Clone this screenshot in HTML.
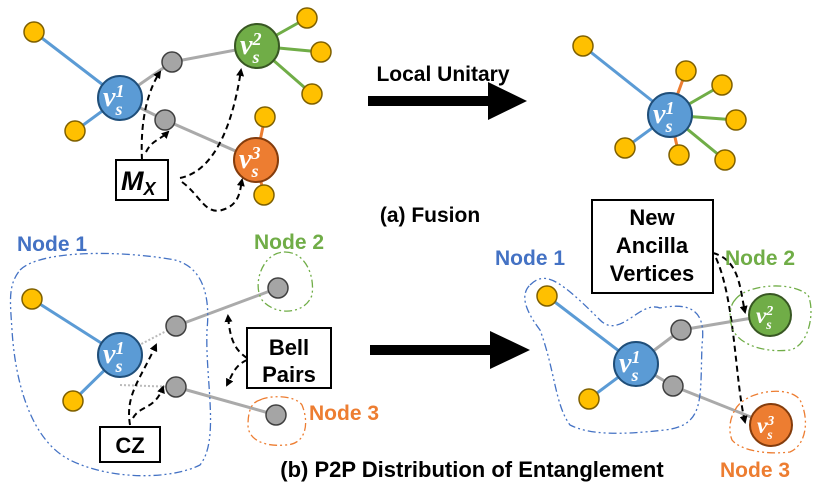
<!DOCTYPE html>
<html><head><meta charset="utf-8"><style>
body{margin:0;background:#fff}
svg{display:block}
text{font-family:"Liberation Sans",sans-serif;font-weight:bold}
.v{font-family:"Liberation Serif",serif;font-style:italic;font-weight:bold;fill:#fff}
</style></head><body>
<svg width="831" height="499" viewBox="0 0 831 499" xmlns="http://www.w3.org/2000/svg">
<defs>
<marker id="ah" markerWidth="8" markerHeight="8" refX="6" refY="4" orient="auto" markerUnits="userSpaceOnUse"><path d="M0,0 L8,4 L0,8 z" fill="#000"/></marker>
<g id="y"><circle r="10" fill="#ffc000" stroke="#7f6000" stroke-width="1.5"/></g>
<g id="g"><circle r="10" fill="#a5a5a5" stroke="#404040" stroke-width="1.5"/></g>
</defs>
<g stroke-width="3" fill="none">
<line x1="34" y1="32" x2="120" y2="98" stroke="#5b9bd5"/>
<line x1="75" y1="131" x2="120" y2="98" stroke="#5b9bd5"/>
<line x1="120" y1="98" x2="172" y2="62" stroke="#aaa"/>
<line x1="172" y1="62" x2="257" y2="46" stroke="#aaa"/>
<line x1="120" y1="98" x2="165" y2="120" stroke="#aaa"/>
<line x1="165" y1="120" x2="256" y2="160" stroke="#aaa"/>
<line x1="257" y1="46" x2="307" y2="18" stroke="#70ad47"/>
<line x1="257" y1="46" x2="321" y2="52" stroke="#70ad47"/>
<line x1="257" y1="46" x2="312" y2="94" stroke="#70ad47"/>
<line x1="256" y1="160" x2="265" y2="117" stroke="#ed7d31"/>
<line x1="256" y1="160" x2="264" y2="195" stroke="#ed7d31"/>
<line x1="583" y1="46" x2="670" y2="115" stroke="#5b9bd5"/>
<line x1="625" y1="148" x2="670" y2="115" stroke="#5b9bd5"/>
<line x1="686" y1="71" x2="670" y2="115" stroke="#ed7d31"/>
<line x1="679" y1="155" x2="670" y2="115" stroke="#ed7d31"/>
<line x1="722" y1="85" x2="670" y2="115" stroke="#70ad47"/>
<line x1="736" y1="120" x2="670" y2="115" stroke="#70ad47"/>
<line x1="725" y1="160" x2="670" y2="115" stroke="#70ad47"/>
<line x1="32" y1="299" x2="120" y2="355" stroke="#5b9bd5"/>
<line x1="73" y1="401" x2="120" y2="355" stroke="#5b9bd5"/>
<line x1="120" y1="355" x2="176" y2="326" stroke="#bbb" stroke-width="2" stroke-dasharray="2 2"/>
<line x1="120" y1="385" x2="176" y2="387" stroke="#bbb" stroke-width="2" stroke-dasharray="2 2"/>
<line x1="176" y1="326" x2="278" y2="288" stroke="#aaa"/>
<line x1="176" y1="387" x2="276" y2="415" stroke="#aaa"/>
<line x1="547" y1="296" x2="636" y2="364" stroke="#5b9bd5"/>
<line x1="589" y1="399" x2="636" y2="364" stroke="#5b9bd5"/>
<line x1="636" y1="364" x2="681" y2="330" stroke="#aaa"/>
<line x1="681" y1="330" x2="770" y2="315" stroke="#aaa"/>
<line x1="636" y1="364" x2="673" y2="386" stroke="#aaa"/>
<line x1="673" y1="386" x2="771" y2="425" stroke="#aaa"/>
</g>
<use href="#y" x="34" y="32"/><use href="#y" x="75" y="131"/>
<use href="#y" x="307" y="18"/><use href="#y" x="321" y="52"/><use href="#y" x="312" y="94"/>
<use href="#y" x="265" y="117"/><use href="#y" x="264" y="195"/>
<use href="#g" x="172" y="62"/><use href="#g" x="165" y="120"/>
<use href="#y" x="583" y="46"/><use href="#y" x="625" y="148"/><use href="#y" x="686" y="71"/><use href="#y" x="679" y="155"/>
<use href="#y" x="722" y="85"/><use href="#y" x="736" y="120"/><use href="#y" x="725" y="160"/>
<use href="#y" x="32" y="299"/><use href="#y" x="73" y="401"/>
<use href="#g" x="176" y="326"/><use href="#g" x="176" y="387"/><use href="#g" x="278" y="288"/><use href="#g" x="276" y="415"/>
<use href="#y" x="547" y="296"/><use href="#y" x="589" y="399"/>
<use href="#g" x="681" y="330"/><use href="#g" x="673" y="386"/>
<g stroke-width="2">
<circle cx="120" cy="98" r="22" fill="#5b9bd5" stroke="#1f4e79"/>
<circle cx="257" cy="46" r="22" fill="#70ad47" stroke="#385723"/>
<circle cx="256" cy="160" r="22" fill="#ed7d31" stroke="#843c0c"/>
<circle cx="670" cy="115" r="22" fill="#5b9bd5" stroke="#1f4e79"/>
<circle cx="120" cy="355" r="22" fill="#5b9bd5" stroke="#1f4e79"/>
<circle cx="636" cy="364" r="22" fill="#5b9bd5" stroke="#1f4e79"/>
<circle cx="770" cy="315" r="21" fill="#70ad47" stroke="#385723"/>
<circle cx="771" cy="425" r="21" fill="#ed7d31" stroke="#843c0c"/>
</g>
<g>
<text class="v" x="103" y="106" font-size="28">v<tspan font-size="18" dy="-9">1</tspan><tspan font-size="18" dx="-9" dy="18">s</tspan></text>
<text class="v" x="240" y="54" font-size="28">v<tspan font-size="18" dy="-9">2</tspan><tspan font-size="18" dx="-9" dy="18">s</tspan></text>
<text class="v" x="239" y="168" font-size="28">v<tspan font-size="18" dy="-9">3</tspan><tspan font-size="18" dx="-9" dy="18">s</tspan></text>
<text class="v" x="653" y="123" font-size="28">v<tspan font-size="18" dy="-9">1</tspan><tspan font-size="18" dx="-9" dy="18">s</tspan></text>
<text class="v" x="103" y="363" font-size="28">v<tspan font-size="18" dy="-9">1</tspan><tspan font-size="18" dx="-9" dy="18">s</tspan></text>
<text class="v" x="619" y="372" font-size="28">v<tspan font-size="18" dy="-9">1</tspan><tspan font-size="18" dx="-9" dy="18">s</tspan></text>
<text class="v" x="756" y="323" font-size="23">v<tspan font-size="14" dy="-8">2</tspan><tspan font-size="14" dx="-7" dy="14">s</tspan></text>
<text class="v" x="757" y="433" font-size="23">v<tspan font-size="14" dy="-8">3</tspan><tspan font-size="14" dx="-7" dy="14">s</tspan></text>
</g>
<g fill="none" stroke="#000" stroke-width="2" stroke-dasharray="6 4" marker-end="url(#ah)">
<path d="M142,160 C140,120 148,90 160,72"/>
<path d="M146,152 C152,140 160,140 168,132"/>
<path d="M180,178 C220,170 235,110 241,70"/>
<path d="M182,182 C200,195 205,215 222,210 C240,205 240,190 242,180"/>
<path d="M130,425 C125,395 140,380 156,345"/>
<path d="M133,418 C140,405 155,410 163,387"/>
<path d="M247,358 C235,350 230,340 228,316"/>
<path d="M247,360 C235,365 232,375 227,385"/>
<path d="M713,253 C740,260 740,290 745,312"/>
<path d="M716,258 C735,300 735,380 745,422"/>
</g>
<g fill="#fff" stroke="#000" stroke-width="2">
<rect x="116" y="160" width="52" height="40"/>
<rect x="247" y="328" width="84" height="60"/>
<rect x="100" y="427" width="60" height="35"/>
<rect x="592" y="200" width="121" height="93"/>
</g>
<text x="121" y="190" font-family="Liberation Serif" font-style="italic" font-size="27">M<tspan font-size="18" dy="5">X</tspan></text>
<text x="289" y="355" font-size="22" text-anchor="middle">Bell</text>
<text x="289" y="382" font-size="22" text-anchor="middle">Pairs</text>
<text x="130" y="453" font-size="22" text-anchor="middle">CZ</text>
<text x="652" y="225" font-size="22" text-anchor="middle">New</text>
<text x="652" y="253" font-size="22" text-anchor="middle">Ancilla</text>
<text x="652" y="281" font-size="22" text-anchor="middle">Vertices</text>
<path d="M368,96 L488,96 L488,82 L527,101 L488,120 L488,106 L368,106 Z" fill="#000"/>
<path d="M370,345 L490,345 L490,331 L530,350 L490,369 L490,355 L370,355 Z" fill="#000"/>
<text x="443" y="81" font-size="21" text-anchor="middle">Local Unitary</text>
<text x="430" y="222" font-size="21" text-anchor="middle">(a) Fusion</text>
<text x="472" y="477" font-size="22" text-anchor="middle">(b) P2P Distribution of Entanglement</text>
<text x="17" y="251" font-size="21" fill="#4472c4">Node 1</text>
<text x="254" y="249" font-size="21" fill="#70ad47">Node 2</text>
<text x="309" y="420" font-size="21" fill="#ed7d31">Node 3</text>
<text x="495" y="265" font-size="21" fill="#4472c4">Node 1</text>
<text x="725" y="265" font-size="21" fill="#70ad47">Node 2</text>
<text x="720" y="477" font-size="21" fill="#ed7d31">Node 3</text>
<g fill="none" stroke-width="1.3" stroke-dasharray="8 3 2 3 2 3">
<path d="M20,270 C40,250 120,250 175,260 C205,268 210,300 207,330 C205,380 220,440 200,465 C170,480 110,480 70,460 C30,440 15,380 12,330 C10,300 8,285 20,270 Z" stroke="#4472c4"/>
<path d="M285,252 C305,252 315,275 312,295 C305,315 275,316 262,300 C252,285 262,252 285,252 Z" stroke="#70ad47"/>
<path d="M260,400 C270,395 295,395 302,405 C310,425 305,445 285,445 C265,447 248,440 248,425 C248,410 252,402 260,400 Z" stroke="#ed7d31"/>
<path d="M530,285 C545,270 560,280 600,320 C620,340 640,300 660,308 C700,300 705,320 702,345 C700,400 705,425 665,430 C620,435 590,435 570,425 C555,405 555,370 540,330 C525,310 520,295 530,285 Z" stroke="#4472c4"/>
<path d="M735,300 C745,285 790,280 808,295 C815,310 810,345 790,350 C765,353 740,345 733,330 C728,318 730,305 735,300 Z" stroke="#70ad47"/>
<path d="M735,410 C745,390 790,385 800,400 C810,420 806,445 790,452 C765,455 740,450 732,440 C728,430 730,418 735,410 Z" stroke="#ed7d31"/>
</g>
</svg>
</body></html>
